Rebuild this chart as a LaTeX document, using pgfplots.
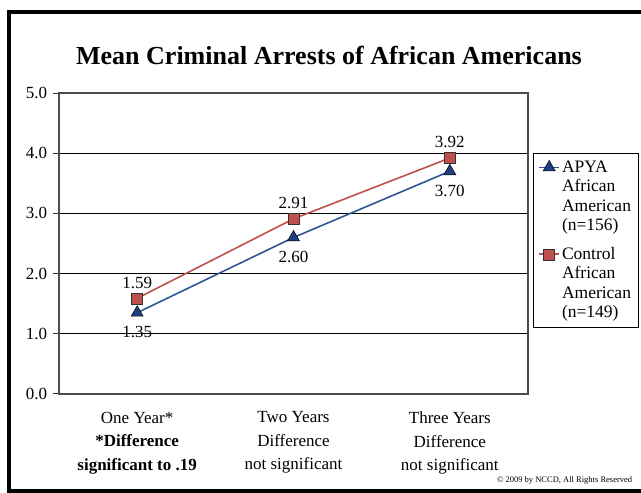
\documentclass[border=0pt]{standalone}
\usepackage{pgfplots}
\pgfplotsset{compat=1.18}
\usepackage{fontspec}
\setmainfont{Liberation Serif}
\definecolor{bluel}{HTML}{2F5597}
\definecolor{bluem}{HTML}{1F3F7F}
\definecolor{redl}{HTML}{C0504D}
\begin{document}
\fontsize{17}{19.5}\selectfont
\begin{tikzpicture}[x=1pt,y=1pt]
\useasboundingbox (0,0) rectangle (641,493);
\draw[line width=4pt] (650,481) -- (9,481) -- (9,2) -- (650,2);
\node[font=\bfseries\fontsize{26}{30}\selectfont] at (329,438) {Mean Criminal Arrests of African Americans};
\node[font=\fontsize{8.5}{10}\selectfont, anchor=base east] at (638,10) {\textcopyright{} 2009 by NCCD, All Rights Reserved};
\begin{axis}[
  at={(59pt,99pt)}, anchor=south west,
  scale only axis, width=469pt, height=301pt,
  xmin=0, xmax=3, ymin=0, ymax=5,
  /pgf/number format/assume math mode=true,
  ytick={0,1,2,3,4,5}, ytick pos=left, xtick pos=bottom,
  yticklabel style={/pgf/number format/fixed, /pgf/number format/fixed zerofill, /pgf/number format/precision=1},
  ymajorgrids, grid style={black, line width=0.8pt},
  xtick={0.5,1.5,2.5},
  xticklabels={{One Year*\\\textbf{*Difference}\\\textbf{significant to .19}},{Two Years\\Difference\\not significant},{Three Years\\Difference\\not significant}},
  xticklabel style={align=center, font=\fontsize{17}{23.5}\selectfont, yshift=-6pt},
  xtick style={draw=none},
  minor xtick={0,1,2,3},
  minor x tick style={black!80, line width=1pt},
  tick align=outside, major tick length=6pt, minor tick length=6pt,
  ytick style={black!80, line width=1pt},
  axis line style={black!70, line width=1.2pt},
  legend style={at={(1.0107,0.80)}, anchor=north west, draw=black, line width=0.8pt,
     font=\fontsize{17.5}{19.5}\selectfont, row sep=10pt, inner sep=5pt, nodes={align=left}},
  legend cell align=left,
  legend image code/.code={\draw[yshift=29.5pt, mark repeat=2, mark phase=2] plot coordinates {(0pt,0pt) (10pt,0pt) (20pt,0pt)};},
  nodes near coords,
  nodes near coords style={black, font=\fontsize{17}{19.5}\selectfont, /pgf/number format/fixed, /pgf/number format/fixed zerofill, /pgf/number format/precision=2},
  clip=false,
]
\addplot[bluel, line width=1.6pt, mark=triangle*, mark size=7pt, mark options={fill=bluem, draw=black, line width=0.5pt},
  nodes near coords style={anchor=north, yshift=-8pt}]
  coordinates {(0.5,1.35) (1.5,2.60) (2.5,3.70)};
\addlegendentry{APYA\\African\\American\\(n=156)}
\addplot[redl, line width=1.6pt, mark=square*, mark size=5.5pt, mark options={fill=redl, draw=black!80, line width=0.5pt},
  nodes near coords style={anchor=south, yshift=4pt}]
  coordinates {(0.5,1.59) (1.5,2.91) (2.5,3.92)};
\addlegendentry{Control\\African\\American\\(n=149)}
\end{axis}
\end{tikzpicture}
\end{document}
